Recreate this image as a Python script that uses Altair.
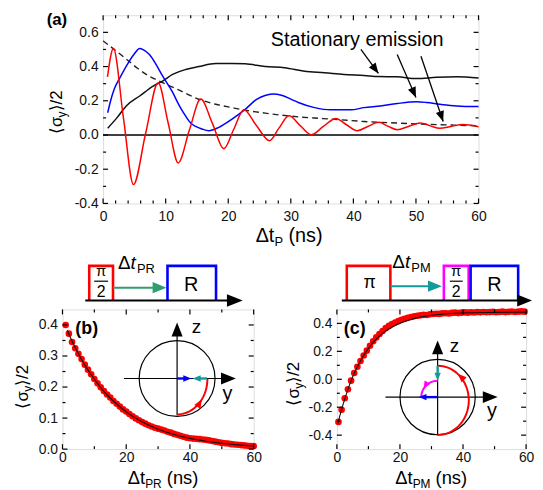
import altair as alt
import numpy as np
import pandas as pd

FONT = "Liberation Sans"

# ---------------- panel (a) data ----------------
red_t = [0.7, 1.65, 3.25, 4.85, 6.8, 8.8, 10.4, 12.0, 13.8, 15.6, 17.5, 19.3, 20.9, 22.5, 24.5,
         26.6, 28.1, 29.7, 31.5, 33.3, 35.2, 37.2, 38.9, 40.6, 42.3, 44.1, 45.5, 47.0, 48.8,
         50.7, 52.2, 53.8, 55.6, 57.5, 60.0]
red_v = [0.34, 0.505, 0.10, -0.29, 0.01, 0.305, 0.07, -0.163, 0.03, 0.21, 0.065, -0.08, 0.035,
         0.147, 0.055, -0.033, 0.04, 0.112, 0.055, 0.002, 0.05, 0.097, 0.06, 0.025, 0.05, 0.074,
         0.052, 0.031, 0.05, 0.07, 0.055, 0.039, 0.05, 0.062, 0.048]

blue_t = [0.74, 1.2, 1.8, 2.7, 4.0, 5.0, 5.85, 6.6, 7.4, 8.5, 9.5, 11.1, 12.2, 13.2, 14.0, 14.8,
          15.8, 16.9, 18.5, 20.6, 22.7, 24.6, 26.0, 27.3, 28.5, 30.0, 31.2, 33.8, 36.4, 39.6,
          41.7, 44.3, 47.0, 50.1, 51.7, 53.8, 56.5, 60.0]
blue_v = [0.13, 0.20, 0.27, 0.335, 0.42, 0.475, 0.505, 0.495, 0.47, 0.41, 0.345, 0.25, 0.17,
          0.11, 0.07, 0.05, 0.035, 0.025, 0.045, 0.093, 0.15, 0.21, 0.232, 0.24, 0.232, 0.21,
          0.19, 0.16, 0.147, 0.147, 0.16, 0.17, 0.184, 0.194, 0.19, 0.18, 0.17, 0.166]

black_t = [0.74, 2.2, 3.7, 5.85, 8.0, 9.5, 11.1, 13.2, 15.3, 18.0, 20.6, 22.7, 25.9, 29.0, 32.2,
           35.4, 38.5, 41.7, 44.0, 47.0, 50.1, 53.3, 56.5, 60.0]
black_v = [0.04, 0.10, 0.17, 0.228, 0.286, 0.315, 0.354, 0.383, 0.40, 0.418, 0.418, 0.416, 0.40,
           0.393, 0.373, 0.364, 0.354, 0.348, 0.342, 0.34, 0.33, 0.337, 0.34, 0.333]

env_t = [0.0, 1.6, 3.5, 5.5, 6.9, 9.5, 12.0, 15.3, 18.0, 20.6, 23.0, 25.9, 28.5, 31.2, 33.8,
         36.4, 39.0, 41.7, 44.3, 47.0, 52.2, 56.0, 60.0]
env_v = [0.55, 0.505, 0.45, 0.39, 0.354, 0.306, 0.265, 0.209, 0.18, 0.16, 0.143, 0.128, 0.116,
         0.106, 0.099, 0.093, 0.086, 0.079, 0.074, 0.07, 0.062, 0.058, 0.054]

annot_text = "Stationary emission"
annot_pos = (40.6, 0.52)
arrow_t1 = [41.2, 47.0, 50.8]
arrow_v1 = [0.50, 0.47, 0.46]
arrow_t2 = [44.0, 50.0, 54.35]
arrow_v2 = [0.36, 0.219, 0.079]

# ---------------- panel (b) data ----------------
b_t = list(range(1, 61))
b_v = [0.400, 0.372, 0.345, 0.325, 0.307, 0.290, 0.272, 0.256, 0.241, 0.226, 0.212, 0.199,
       0.187, 0.176, 0.166, 0.155, 0.146, 0.137, 0.128, 0.121, 0.113, 0.106, 0.099, 0.093,
       0.087, 0.082, 0.077, 0.073, 0.069, 0.066, 0.063, 0.060, 0.056, 0.053, 0.049, 0.046,
       0.043, 0.040, 0.037, 0.035, 0.034, 0.033, 0.032, 0.031, 0.030, 0.028, 0.026, 0.024,
       0.022, 0.020, 0.019, 0.018, 0.016, 0.015, 0.014, 0.013, 0.012, 0.011, 0.010, 0.010]
bfit_t = [1.5, 3, 5, 7, 10, 13, 16, 20, 25, 30, 35, 40, 45, 50, 55, 60]
bfit_v = [0.383, 0.348, 0.307, 0.271, 0.225, 0.186, 0.155, 0.12, 0.088, 0.064, 0.047, 0.0345,
          0.0255, 0.0187, 0.0137, 0.010]

# ---------------- panel (c) data ----------------
c_t = [0.5 + i for i in range(60)]
c_v = [-0.305, -0.218, -0.136, -0.072, -0.010, 0.045, 0.090, 0.130, 0.170, 0.205, 0.240,
       0.272, 0.300, 0.324, 0.346, 0.366, 0.382, 0.395, 0.406, 0.416, 0.426, 0.433, 0.440,
       0.446, 0.451, 0.455, 0.458, 0.461, 0.460, 0.465, 0.467, 0.469, 0.468, 0.472, 0.473,
       0.471, 0.475, 0.477, 0.474, 0.477, 0.479, 0.477, 0.480, 0.478, 0.481, 0.479, 0.482,
       0.480, 0.481, 0.483, 0.480, 0.482, 0.484, 0.481, 0.483, 0.485, 0.482, 0.484, 0.486, 0.484]
cfit_t = [0.3, 2, 4, 6, 8, 10, 12, 15, 18, 21, 25, 30, 35, 40, 50, 60]
cfit_v = [-0.315, -0.178, -0.04, 0.068, 0.153, 0.221, 0.276, 0.338, 0.38, 0.41, 0.438, 0.458,
          0.469, 0.475, 0.479, 0.481]

# ---------------- ticks ----------------
a_xmaj = [0, 10, 20, 30, 40, 50, 60]
a_xmin = [v for v in range(2, 60, 2) if v % 10]
a_ymaj = [-0.4, -0.2, 0.0, 0.2, 0.4, 0.6]
a_ymin = [-0.3, -0.1, 0.1, 0.3, 0.5]
b_xmaj = [0, 20, 40, 60]
b_xmin = [10, 30, 50]
b_ymaj = [0.0, 0.1, 0.2, 0.3, 0.4]
b_ymin = [0.05, 0.15, 0.25, 0.35]
c_xmaj = [0, 20, 40, 60]
c_xmin = [10, 30, 50]
c_ymaj = [-0.4, -0.2, 0.0, 0.2, 0.4]
c_ymin = [-0.3, -0.1, 0.1, 0.3]

RED, BLUE, GREEN, TEAL, MAG = "#ff0000", "#0000ff", "#2f9e6c", "#139a9a", "#ff00ff"

# ---------------- layout (page px) ----------------
A = dict(x0=103, y0=12, W=379, H=190)
B = dict(x0=62, y0=306, W=193, H=141)
C = dict(x0=337, y0=306, W=191, H=141)

EM = {"Δ": 0.668, "t": 0.278, "P": 0.667, "R": 0.722, "M": 0.833, " ": 0.278, "(": 0.333,
      ")": 0.333, "n": 0.556, "s": 0.5, "⟨": 0.39, "⟩": 0.39, "σ": 0.6, "y": 0.5, "/": 0.278,
      "2": 0.556}


def tw(s, size):
    return sum(EM.get(ch, 0.55) for ch in s) * size


def rich(parts, x, y, P, angle=0, color="#000000", fw="normal"):
    rows = []
    for s, size, dy, st in parts:
        lead = len(s) - len(s.lstrip(" "))
        adv0 = tw(" " * lead, size)
        s2 = s.strip(" ")
        if angle == 0:
            x += adv0
            rows.append(dict(x=x - P["x0"], y=y + dy - P["y0"], t=s2, fs=size, ang=0, c=color,
                             fw=fw, fst=st, al="left"))
            x += tw(s2, size)
        else:
            y -= adv0
            rows.append(dict(x=x + dy - P["x0"], y=y - P["y0"], t=s2, fs=size, ang=270,
                             c=color, fw=fw, fst=st, al="left"))
            y -= tw(s2, size)
    return rows


def txt(s, x, y, P, size, al="left", fw="normal", st="normal", color="#000000"):
    return [dict(x=x - P["x0"], y=y - P["y0"], t=s, fs=size, ang=0, c=color, fw=fw, fst=st, al=al)]


def text_layers(rows):
    df = pd.DataFrame(rows)
    out = []
    for (fw, st, al), g in df.groupby(["fw", "fst", "al"]):
        out.append(alt.Chart(g.reset_index(drop=True)).mark_text(
            font=FONT, fontWeight=fw, fontStyle=st, align=al, baseline="alphabetic").encode(
            x=alt.X("x:Q", scale=None), y=alt.Y("y:Q", scale=None), text="t:N",
            size=alt.Size("fs:Q", scale=None), angle=alt.Angle("ang:Q", scale=None),
            color=alt.Color("c:N", scale=None)))
    return out


def poly(rows, pid, pts, P, color, w):
    for i, (x, y) in enumerate(pts):
        rows.append(dict(id=pid, o=i, x=x - P["x0"], y=y - P["y0"], c=color, w=w))


def line_layer(rows):
    return alt.Chart(pd.DataFrame(rows)).mark_line(strokeCap="butt", strokeJoin="miter").encode(
        x=alt.X("x:Q", scale=None), y=alt.Y("y:Q", scale=None), detail="id:N", order="o:Q",
        color=alt.Color("c:N", scale=None), strokeWidth=alt.StrokeWidth("w:Q", scale=None))


HEAD = "M0,0L0.8,2L-0.8,2Z"


def head(rows, x, y, ang, length, color, P):
    rows.append(dict(x=x - P["x0"], y=y - P["y0"], ang=ang % 360, sz=length ** 2, c=color))


def head_layer(rows):
    return alt.Chart(pd.DataFrame(rows)).mark_point(shape=HEAD, filled=True, opacity=1,
                                                   strokeWidth=0).encode(
        x=alt.X("x:Q", scale=None), y=alt.Y("y:Q", scale=None),
        angle=alt.Angle("ang:Q", scale=None), size=alt.Size("sz:Q", scale=None),
        color=alt.Color("c:N", scale=None))


def anchors(pts, P):
    df = pd.DataFrame([dict(x=x - P["x0"], y=y - P["y0"]) for x, y in pts])
    return alt.Chart(df).mark_point(opacity=0, size=1).encode(
        x=alt.X("x:Q", scale=None), y=alt.Y("y:Q", scale=None))


def lab_expr():
    return "replace(format(datum.value, '.1f'), '\u2212', '-')"


def axes(xvals, yvals, xdom, ydom, xpad=6):
    xs = alt.Scale(domain=xdom, nice=False, zero=False)
    ys = alt.Scale(domain=ydom, nice=False, zero=False)
    common = dict(grid=False, ticks=False, domain=False, labelFont=FONT, labelFontSize=14,
                  labelColor="#111111", labelFlush=False, labelOverlap=False, title=None)
    ax = alt.Axis(values=xvals, labelPadding=xpad, **common)
    ay = alt.Axis(values=yvals, labelPadding=5, labelExpr=lab_expr(), **common)
    X = lambda f: alt.X(f, scale=xs, axis=ax)
    Y = lambda f: alt.Y(f, scale=ys, axis=ay)
    return X, Y


def tick_layers(X, Y, xmaj, xmin, ymaj, ymin, W, H):
    out = []
    for vals, L in ((xmaj, 5), (xmin, 3)):
        d = pd.DataFrame({"tx": vals})
        out.append(alt.Chart(d).mark_rule(color="black", strokeWidth=1.2).encode(
            x=X("tx:Q"), y=alt.value(H), y2=alt.value(H - L)))
        out.append(alt.Chart(d).mark_rule(color="black", strokeWidth=1.2).encode(
            x=X("tx:Q"), y=alt.value(0), y2=alt.value(L)))
    for vals, L in ((ymaj, 5), (ymin, 3)):
        d = pd.DataFrame({"ty": vals})
        out.append(alt.Chart(d).mark_rule(color="black", strokeWidth=1.2).encode(
            y=Y("ty:Q"), x=alt.value(0), x2=alt.value(L)))
        out.append(alt.Chart(d).mark_rule(color="black", strokeWidth=1.2).encode(
            y=Y("ty:Q"), x=alt.value(W), x2=alt.value(W - L)))
    return out


def ytitle(x, y, P):
    return rich([("⟨σ", 17, 0, "normal"), ("y", 12, 4, "normal"), ("⟩/2", 17, 0, "normal")],
                x, y, P, angle=270)


# ================= panel (a) =================
XA, YA = axes(a_xmaj, a_ymaj, [0, 60], [-0.4, 0.7])
curves = pd.concat([
    pd.DataFrame({"t": black_t, "v": black_v, "s": "black"}),
    pd.DataFrame({"t": blue_t, "v": blue_v, "s": "blue"}),
    pd.DataFrame({"t": red_t, "v": red_v, "s": "red"}),
], ignore_index=True)
a_lines = alt.Chart(curves).mark_line(interpolate="monotone", strokeWidth=1.5).encode(
    x=XA("t:Q"), y=YA("v:Q"),
    color=alt.Color("s:N", scale=alt.Scale(domain=["black", "blue", "red"],
                                           range=["#111111", BLUE, RED]), legend=None))
a_env = alt.Chart(pd.DataFrame({"t": env_t, "v": env_v})).mark_line(
    interpolate="monotone", strokeWidth=1.4, strokeDash=[6, 4], color="#222222").encode(
    x=XA("t:Q"), y=YA("v:Q"))
a_zero = alt.Chart(pd.DataFrame({"z": [0.0]})).mark_rule(color="black", strokeWidth=1.6).encode(
    y=YA("z:Q"))
a_annot = alt.Chart(pd.DataFrame({"t": [annot_pos[0]], "v": [annot_pos[1]], "s": [annot_text]})
                    ).mark_text(font=FONT, fontSize=20, align="center", baseline="alphabetic",
                                color="black").encode(x=XA("t:Q"), y=YA("v:Q"), text="s:N")
arr = pd.DataFrame({"t1": arrow_t1, "v1": arrow_v1, "t2": arrow_t2, "v2": arrow_v2})
pxu = A["W"] / 60.0
pyu = A["H"] / 1.1
arr["ang"] = np.degrees(np.arctan2((arr.t2 - arr.t1) * pxu, (arr.v2 - arr.v1) * pyu)) % 360
a_arr = alt.Chart(arr).mark_rule(color="black", strokeWidth=1.3).encode(
    x=XA("t1:Q"), y=YA("v1:Q"), x2="t2:Q", y2="v2:Q")
a_heads = alt.Chart(arr).mark_point(shape=HEAD, filled=True, opacity=1, strokeWidth=0,
                                    color="black", size=110).encode(
    x=XA("t2:Q"), y=YA("v2:Q"), angle=alt.Angle("ang:Q", scale=None))

a_txt = []
a_txt += txt("(a)", 46, 22, A, 17, fw="bold")
a_txt += ytitle(62, 132, A)
a_txt += rich([("Δt", 20, 0, "normal"), ("P", 13, 4, "normal"), (" (ns)", 20, 0, "normal")],
              257, 241, A)

top = alt.layer(a_zero, a_env, a_lines, a_arr, a_heads, a_annot,
                *tick_layers(XA, YA, a_xmaj, a_xmin, a_ymaj, a_ymin, A["W"], A["H"]),
                *text_layers(a_txt),
                anchors([(8, 8), (8, 247)], A)).properties(width=A["W"], height=A["H"])

spacer = alt.Chart(pd.DataFrame({"x": [0]})).mark_point(opacity=0, size=1).encode(
    x=alt.X("x:Q", scale=None), y=alt.Y("x:Q", scale=None)).properties(
    width=A["x0"] - B["x0"], height=1, view=alt.ViewBackground(strokeOpacity=0))
row1 = alt.hconcat(spacer, top, spacing=0, bounds="flush")


# ================= panels (b), (c) =================
def data_panel(P, X, Y, t, v, ft, fv, ticks):
    pts = alt.Chart(pd.DataFrame({"t": t, "v": v})).mark_circle(size=45, color=RED, opacity=1
                                                              ).encode(x=X("t:Q"), y=Y("v:Q"))
    fit = alt.Chart(pd.DataFrame({"t": ft, "v": fv})).mark_line(
        interpolate="monotone", color="#111111", strokeWidth=1.1).encode(x=X("t:Q"), y=Y("v:Q"))
    return [pts, fit] + tick_layers(X, Y, *ticks, P["W"], P["H"])


XB, YB = axes(b_xmaj, b_ymaj, [0, 60], [0, 0.45], xpad=2)
XC, YC = axes(c_xmaj, c_ymaj, [0, 60], [-0.5, 0.5], xpad=2)

# --- schematic for (b)
bl, bh, bt = [], [], []
poly(bl, "rbox", [(89, 297), (89, 262), (113, 262), (113, 297)], B, RED, 2.6)
poly(bl, "bbox", [(168, 297), (168, 262), (217, 262), (217, 297)], B, BLUE, 2.6)
poly(bl, "base", [(85, 297), (232, 297)], B, "#000000", 2)
head(bh, 244, 297, 90, 16, "#000000", B)
poly(bl, "garr", [(113, 284), (157, 284)], B, GREEN, 2)
head(bh, 167, 284, 90, 14, GREEN, B)
poly(bl, "frac", [(94, 277.5), (108, 277.5)], B, "#000000", 1.2)
bt += txt("π", 101, 272, B, 15, al="center")
bt += txt("2", 101, 293, B, 16, al="center")
bt += txt("R", 192, 287, B, 20, al="center")
bt += rich([("Δ", 19, 0, "normal")], 118, 265, B)
bt += rich([("t", 19, 0, "italic")], 118 + tw("Δ", 19), 265, B)
bt += rich([("PR", 13, 4, "normal")], 118 + tw("Δ", 19) + 6.5, 265, B)
# Bloch inset (b)
bcx, bcy = 177.7, 375.7
poly(bl, "hax", [(124, bcy), (224, bcy)], B, "#000000", 1.2)
head(bh, 237, bcy, 90, 15, "#000000", B)
poly(bl, "vax", [(bcx, 412.7), (bcx, 332)], B, "#000000", 1.2)
head(bh, bcx, 319.3, 0, 14, "#000000", B)
bt += txt("z", 192.5, 330, B, 19)
bt += txt("y", 223.5, 397, B, 20)
th = np.radians(np.linspace(0, 90, 19))
poly(bl, "rarc", list(zip(bcx + 30.6 * np.sin(th), 376 + 36 * np.cos(th))), B, RED, 2)
a55 = np.radians(55)
head(bh, bcx + 30.6 * np.sin(a55), 376 + 36 * np.cos(a55),
     np.degrees(np.arctan2(30.6 * np.cos(a55), 36 * np.sin(a55))), 9, RED, B)
poly(bl, "barr", [(bcx, bcy), (186, bcy)], B, BLUE, 2.4)
head(bh, 192, bcy, 90, 8, BLUE, B)
poly(bl, "tarr", [(208, bcy), (200, bcy)], B, TEAL, 2.4)
head(bh, 193.5, bcy, 270, 8, TEAL, B)
bt += txt("(b)", 75, 331, B, 18, fw="bold")
bt += ytitle(27, 406, B)
bt += rich([("Δt", 18.5, 0, "normal"), ("PR", 12, 3.5, "normal"), (" (ns)", 18.5, 0, "normal")],
           128, 482.5, B)
b_circle = alt.Chart(pd.DataFrame({"x": [bcx - B["x0"]], "y": [bcy - B["y0"]], "s": [76.6 ** 2]})
                     ).mark_point(shape="circle", filled=False, color="black", strokeWidth=1.2,
                                  opacity=1).encode(
    x=alt.X("x:Q", scale=None), y=alt.Y("y:Q", scale=None), size=alt.Size("s:Q", scale=None))

panel_b = alt.layer(*data_panel(B, XB, YB, b_t, b_v, bfit_t, bfit_v,
                                (b_xmaj, b_xmin, b_ymaj, b_ymin)),
                    b_circle, line_layer(bl), head_layer(bh), *text_layers(bt),
                    anchors([(8, 248), (268, 248)], B)).properties(width=B["W"], height=B["H"])

# --- schematic for (c)
cl, ch, ct = [], [], []
poly(cl, "rbox", [(347, 297), (347, 262), (391, 262), (391, 297)], C, RED, 2.6)
ct += txt("π", 370, 284, C, 18, al="center")
poly(cl, "tarr0", [(391, 282.5), (430, 282.5)], C, TEAL, 2)
head(ch, 443, 282.5, 90, 14, TEAL, C)
poly(cl, "mbox", [(445, 297), (445, 262), (470, 262), (470, 297)], C, MAG, 2.6)
poly(cl, "frac", [(451, 277.5), (464, 277.5)], C, "#000000", 1.2)
ct += txt("π", 457.5, 272, C, 15, al="center")
ct += txt("2", 457.5, 293, C, 16, al="center")
poly(cl, "bbox", [(472, 297), (472, 262), (520, 262), (520, 297)], C, BLUE, 2.6)
ct += txt("R", 496, 287, C, 20, al="center")
poly(cl, "base", [(342, 297), (522, 297)], C, "#000000", 2)
head(ch, 534, 297, 90, 15, "#000000", C)
ct += rich([("Δ", 19, 0, "normal")], 393, 264, C)
ct += rich([("t", 19, 0, "italic")], 393 + tw("Δ", 19), 264, C)
ct += rich([("PM", 13, 4, "normal")], 393 + tw("Δ", 19) + 6.5, 264, C)
# Bloch inset (c)
ccx, ccy = 438.7, 394.5
poly(cl, "hax", [(386, ccy), (486, ccy)], C, "#000000", 1.2)
head(ch, 499.3, ccy, 90, 15, "#000000", C)
poly(cl, "vax", [(ccx, 433), (ccx, 350)], C, "#000000", 1.2)
head(ch, ccx, 337.3, 0, 14, "#000000", C)
ct += txt("z", 451, 349, C, 19)
ct += txt("y", 488.5, 415, C, 20)
th = np.radians(np.linspace(0, 180, 31))
poly(cl, "rarc", list(zip(ccx + 31.5 * np.sin(th), 397.8 + 35 * np.cos(th))), C, RED, 2)
a140 = np.radians(140)
head(ch, ccx + 31.5 * np.sin(a140), 397.8 + 35 * np.cos(a140),
     np.degrees(np.arctan2(31.5 * np.cos(a140), 35 * np.sin(a140))), 9, RED, C)
poly(cl, "tarr", [(ccx, 363), (ccx, 371)], C, TEAL, 2.4)
head(ch, ccx, 378, 180, 8, TEAL, C)
thm = np.radians(np.linspace(0, 88, 12))
poly(cl, "marc", list(zip(ccx - 16.5 * np.sin(thm), ccy - 16.5 * np.cos(thm))), C, MAG, 2)
a60 = np.radians(60)
head(ch, ccx - 16.5 * np.sin(a60), ccy - 16.5 * np.cos(a60),
     np.degrees(np.arctan2(-16.5 * np.cos(a60), -16.5 * np.sin(a60))), 8, MAG, C)
poly(cl, "barr", [(ccx, ccy), (427, ccy)], C, BLUE, 2.4)
head(ch, 419.5, ccy, 270, 8, BLUE, C)
ct += txt("(c)", 344, 331, C, 18, fw="bold")
ct += ytitle(299, 403, C)
ct += rich([("Δt", 18.5, 0, "normal"), ("PM", 12, 3.5, "normal"), (" (ns)", 18.5, 0, "normal")],
           396, 482.5, C)
c_circle = alt.Chart(pd.DataFrame({"x": [ccx - C["x0"]], "y": [ccy - C["y0"]], "s": [76 ** 2]})
                     ).mark_point(shape="circle", filled=False, color="black", strokeWidth=1.2,
                                  opacity=1).encode(
    x=alt.X("x:Q", scale=None), y=alt.Y("y:Q", scale=None), size=alt.Size("s:Q", scale=None))

panel_c = alt.layer(*data_panel(C, XC, YC, c_t, c_v, cfit_t, cfit_v,
                                (c_xmaj, c_xmin, c_ymaj, c_ymin)),
                    c_circle, line_layer(cl), head_layer(ch), *text_layers(ct),
                    anchors([(280, 248)], C)).properties(width=C["W"], height=C["H"])

row2 = alt.hconcat(panel_b, panel_c, spacing=12)
chart = alt.vconcat(row1, row2, spacing=1).properties(
    padding=0, background="white").configure_view(
    stroke="black", strokeWidth=1.6).configure(font=FONT)

chart.save("out.html", embed_options={"renderer": "svg", "actions": False})
